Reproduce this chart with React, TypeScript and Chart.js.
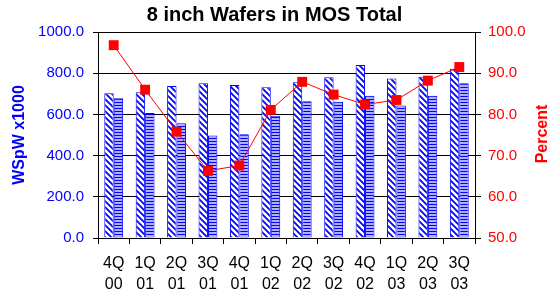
import React, { useEffect, useRef } from "react";
import { Chart, registerables } from "chart.js";

Chart.register(...registerables);

const categories: string[][] = [
  ["4Q", "00"], ["1Q", "01"], ["2Q", "01"], ["3Q", "01"], ["4Q", "01"], ["1Q", "02"],
  ["2Q", "02"], ["3Q", "02"], ["4Q", "02"], ["1Q", "03"], ["2Q", "03"], ["3Q", "03"],
];
const capacity: number[] = [703, 708, 738, 751, 743, 732, 756, 780, 840, 774, 783, 822];
const actual: number[] = [679, 607, 557, 497, 504, 593, 664, 661, 691, 643, 691, 751];
const percent: number[] = [96.8, 86.0, 75.8, 66.3, 67.6, 81.1, 87.9, 84.8, 82.4, 83.5, 88.2, 91.5];

const FONT = "'Liberation Sans', Arial, Helvetica, sans-serif";

function diagPattern(): CanvasPattern | string {
  const c = document.createElement("canvas");
  c.width = 6; c.height = 6;
  const g = c.getContext("2d");
  if (!g) return "#fff";
  g.fillStyle = "#ffffff";
  g.fillRect(0, 0, 6, 6);
  g.strokeStyle = "#0000ff";
  g.lineWidth = 1.8;
  g.beginPath();
  for (let k = -6; k <= 6; k += 6) {
    g.moveTo(k - 1, -1);
    g.lineTo(k + 7, 7);
  }
  g.stroke();
  return g.createPattern(c, "repeat") || "#fff";
}

function horizPattern(): CanvasPattern | string {
  const c = document.createElement("canvas");
  c.width = 4; c.height = 3;
  const g = c.getContext("2d");
  if (!g) return "#aaf";
  g.fillStyle = "#b0b0ff";
  g.fillRect(0, 0, 4, 3);
  g.fillStyle = "#0000ff";
  g.fillRect(0, 0, 4, 1);
  return g.createPattern(c, "repeat") || "#aaf";
}

const rightTitlePlugin = {
  id: "rightTitle",
  afterDraw(chart: any) {
    const ctx = chart.ctx;
    ctx.save();
    ctx.translate(543, 134);
    ctx.rotate(-Math.PI / 2);
    ctx.fillStyle = "#ff0000";
    ctx.font = `bold 16px ${FONT}`;
    ctx.textAlign = "center";
    ctx.textBaseline = "middle";
    ctx.fillText("Percent", 0, 0);
    ctx.restore();
  },
};

export default function App() {
  const ref = useRef<HTMLCanvasElement | null>(null);
  useEffect(() => {
    if (!ref.current) return;
    const chart = new Chart(ref.current, {
      type: "bar",
      data: {
        labels: categories,
        datasets: [
          {
            type: "line",
            label: "Percent",
            data: percent,
            yAxisID: "y1",
            borderColor: "#ff0000",
            backgroundColor: "#ff0000",
            borderWidth: 1,
            pointStyle: "rect",
            pointRadius: 7,
            pointBackgroundColor: "#ff0000",
            pointBorderColor: "#ff0000",
            pointBorderWidth: 0,
            order: 0,
          } as any,
          {
            type: "bar",
            label: "Capacity",
            data: capacity,
            yAxisID: "y",
            backgroundColor: diagPattern() as any,
            borderColor: "#0000ff",
            borderWidth: 1,
            categoryPercentage: 0.6,
            barPercentage: 1,
            order: 1,
          },
          {
            type: "bar",
            label: "Actual",
            data: actual,
            yAxisID: "y",
            backgroundColor: horizPattern() as any,
            borderColor: "#0000ff",
            borderWidth: 1,
            categoryPercentage: 0.6,
            barPercentage: 1,
            order: 1,
          },
        ],
      },
      options: {
        responsive: false,
        animation: false,
        devicePixelRatio: 1,
        layout: { padding: 0 },
        plugins: {
          legend: { display: false },
          tooltip: { enabled: false },
          title: {
            display: true,
            text: "8 inch Wafers in MOS Total",
            color: "#000",
            font: { family: FONT, size: 20, weight: "bold", lineHeight: 1.2 },
            padding: { top: 3, bottom: 5 },
          },
        },
        scales: {
          x: {
            offset: true,
            grid: { display: true, drawOnChartArea: false, tickLength: 6, color: "#000", offset: true },
            border: { display: true, color: "#000" },
            ticks: {
              color: "#000",
              font: { family: FONT, size: 16, lineHeight: 1.3 },
              padding: 9,
              maxRotation: 0,
              autoSkip: false,
            },
            afterFit(s: any) { s.height = 59; },
          },
          y: {
            position: "left",
            min: 0,
            max: 1000,
            ticks: {
              stepSize: 200,
              color: "#0000ff",
              font: { family: FONT, size: 15 },
              padding: 9,
              callback: (v: any) => Number(v).toFixed(1),
            },
            grid: { color: "#000", tickLength: 5, drawOnChartArea: true },
            border: { display: true, color: "#000" },
            title: {
              display: true,
              text: "WSpW x1000",
              color: "#0000ff",
              font: { family: FONT, size: 16, weight: "bold", lineHeight: 1.2 },
              padding: { top: 10, bottom: 0 },
            },
            afterFit(s: any) { s.width = 98; },
          },
          y1: {
            position: "right",
            min: 50,
            max: 100,
            ticks: {
              stepSize: 10,
              color: "#ff0000",
              font: { family: FONT, size: 15 },
              padding: 7,
              callback: (v: any) => Number(v).toFixed(1),
            },
            grid: { color: "#000", tickLength: 6, drawOnChartArea: false },
            border: { display: true, color: "#000" },
            afterFit(s: any) { s.width = 74; },
          },
        },
      },
      plugins: [rightTitlePlugin],
    });
    return () => chart.destroy();
  }, []);
  return (
    <div style={{ position: "absolute", left: 0, top: 0, width: 549, height: 297, background: "#fff" }}>
      <canvas ref={ref} width={549} height={297} />
    </div>
  );
}
